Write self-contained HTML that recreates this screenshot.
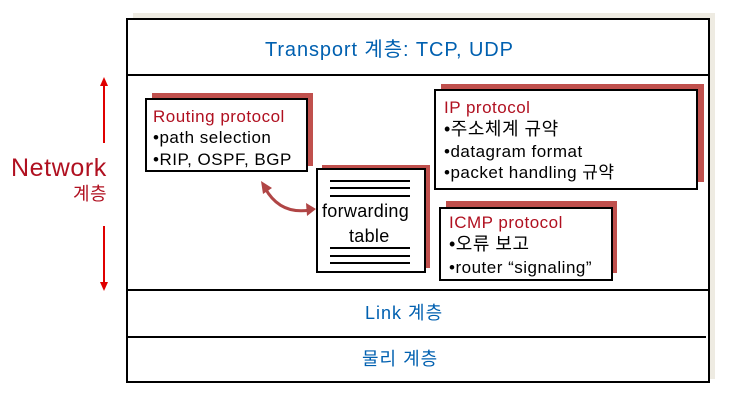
<!DOCTYPE html>
<html><head><meta charset="utf-8"><style>
body{margin:0;width:750px;height:410px;background:#fff;position:relative;overflow:hidden;font-family:"Liberation Sans","Noto Sans CJK KR",sans-serif}
.a{position:absolute}
.box{position:absolute;background:#fff;border:2px solid #000;box-sizing:border-box}
.sh{position:absolute;background:#c0504d}
.t{position:absolute;white-space:nowrap;line-height:1;font-size:17px;letter-spacing:0.5px}
.blue{color:#0060b0}
.red{color:#b01020}
</style></head><body>
<div class="a" style="left:133px;top:13px;width:582px;height:366px;background:#eeebe2"></div>
<div class="box" style="left:126px;top:18px;width:584px;height:365px"></div>
<div class="a" style="left:128px;top:74px;width:581px;height:2px;background:#000"></div>
<div class="a" style="left:128px;top:289px;width:581px;height:2px;background:#000"></div>
<div class="a" style="left:128px;top:336px;width:578px;height:2px;background:#000"></div>
<div class="t blue" style="left:265px;top:40px;font-size:20px;letter-spacing:0.9px">Transport 계층: TCP, UDP</div>
<div class="t blue" style="left:365px;top:304px;font-size:18px;letter-spacing:1px">Link 계층</div>
<div class="t blue" style="left:362px;top:350px;font-size:18px;letter-spacing:1px">물리 계층</div>

<div class="t red" style="left:11px;top:156px;font-size:25px;letter-spacing:0.6px">Network</div>
<div class="t red" style="left:73px;top:185px;font-size:18px">계층</div>

<svg class="a" style="left:0;top:0" width="750" height="410">
<g stroke="#e00000" stroke-width="2" fill="#e00000">
<line x1="104" y1="84" x2="104" y2="143"/><polygon points="100,86 108,86 104,77" stroke="none"/>
<line x1="104" y1="226" x2="104" y2="284"/><polygon points="100,282 108,282 104,291" stroke="none"/>
</g>
<path d="M265,188 Q280,215 310,210" fill="none" stroke="#b04545" stroke-width="3"/>
<polygon points="261,181 272,188 263,194" fill="#b04545"/>
<polygon points="316,209 306,203 307,216" fill="#b04545"/>
</svg>

<div class="sh" style="left:152px;top:93px;width:161px;height:73px"></div>
<div class="box" style="left:145px;top:98px;width:163px;height:74px"></div>
<div class="t red" style="left:153px;top:108px">Routing protocol</div>
<div class="t" style="left:153px;top:129px">•path selection</div>
<div class="t" style="left:153px;top:151px">•RIP, OSPF, BGP</div>

<div class="sh" style="left:322px;top:165px;width:108px;height:103px"></div>
<div class="box" style="left:316px;top:168px;width:110px;height:105px"></div>
<svg class="a" style="left:0;top:0" width="750" height="410">
<g stroke="#000" stroke-width="2">
<line x1="330" y1="181" x2="410" y2="181"/><line x1="330" y1="188" x2="410" y2="188"/><line x1="330" y1="196" x2="410" y2="196"/>
<line x1="330" y1="248" x2="410" y2="248"/><line x1="330" y1="256" x2="410" y2="256"/><line x1="330" y1="263" x2="410" y2="263"/>
</g></svg>
<div class="t" style="left:322px;top:202px;font-size:18px;letter-spacing:0.3px">forwarding</div>
<div class="t" style="left:349px;top:227px;font-size:18px;letter-spacing:0.3px">table</div>

<div class="sh" style="left:441px;top:84px;width:263px;height:98px"></div>
<div class="box" style="left:434px;top:89px;width:264px;height:101px"></div>
<div class="t red" style="left:444px;top:99px">IP protocol</div>
<div class="t" style="left:444px;top:120px;font-size:18px">•주소체계 규약</div>
<div class="t" style="left:444px;top:143px">•datagram format</div>
<div class="t" style="left:444px;top:164px">•packet handling 규약</div>

<div class="sh" style="left:446px;top:201px;width:171px;height:72px"></div>
<div class="box" style="left:439px;top:207px;width:174px;height:74px"></div>
<div class="t red" style="left:449px;top:214px">ICMP protocol</div>
<div class="t" style="left:449px;top:235px;font-size:18px">•오류 보고</div>
<div class="t" style="left:449px;top:259px">•router “signaling”</div>
</body></html>
